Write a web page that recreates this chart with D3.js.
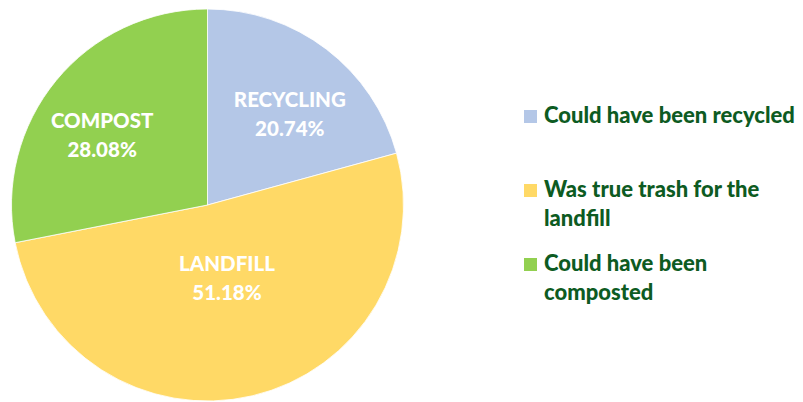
<!DOCTYPE html>
<html>
<head>
<meta charset="utf-8">
<script src="https://cdn.jsdelivr.net/npm/d3@7"></script>
<style>
  body { margin: 0; background: #fff; }
  text { font-family: Lato, "Open Sans", sans-serif; font-weight: 900; }
</style>
</head>
<body>
<div id="chart"></div>
<script>
// data
var categories = ["RECYCLING", "LANDFILL", "COMPOST"];
var values = [20.74, 51.18, 28.08];
var legendLabels = [
  ["Could have been recycled"],
  ["Was true trash for the", "landfill"],
  ["Could have been", "composted"]
];
var colors = ["#b4c7e7", "#ffd966", "#92d050"];

var width = 803,
    height = 402,
    cx = 207.5,
    cy = 205,
    radius = 196,
    labelR = [0.6, 0.42, 0.63],              // excel "best fit" style placement
    labelNudge = [[11, 3.5], [0.7, -6], [-10, 9.5]],
    lineGap = 29;

var svg = d3.select("#chart").append("svg")
    .attr("width", width)
    .attr("height", height);

var pie = d3.pie().sort(null).value(function (d) { return d; });
var arcs = pie(values);

var arc = d3.arc().innerRadius(0).outerRadius(radius);

var g = svg.append("g")
    .attr("transform", "translate(" + cx + "," + cy + ")");

g.selectAll("path.slice")
  .data(arcs)
  .enter().append("path")
    .attr("class", "slice")
    .attr("d", arc)
    .attr("fill", function (d, i) { return colors[i]; })
    .attr("stroke", "#fff")
    .attr("stroke-width", 0.8);

var labels = g.selectAll("g.lab")
  .data(arcs)
  .enter().append("g")
    .attr("class", "lab")
    .attr("transform", function (d, i) {
      var r = radius * labelR[i];
      var c = d3.arc().innerRadius(r).outerRadius(r).centroid(d);
      return "translate(" + (c[0] + labelNudge[i][0]) + "," + (c[1] + labelNudge[i][1]) + ")";
    });

labels.append("text")
    .attr("text-anchor", "middle")
    .attr("y", -8)
    .attr("fill", "#fff")
    .style("font-size", "20.5px")
    .text(function (d, i) { return categories[i]; });

labels.append("text")
    .attr("text-anchor", "middle")
    .attr("y", -8 + lineGap)
    .attr("fill", "#fff")
    .style("font-size", "20.5px")
    .text(function (d, i) { return d3.format(".2f")(values[i]) + "%"; });

// legend
var legendY = d3.scalePoint()
    .domain(d3.range(categories.length))
    .range([123, 271]);

var leg = svg.selectAll("g.legend")
  .data(legendLabels)
  .enter().append("g")
    .attr("class", "legend")
    .attr("transform", function (d, i) { return "translate(524," + legendY(i) + ")"; });

leg.append("rect")
    .attr("x", 0)
    .attr("y", -13)
    .attr("width", 13)
    .attr("height", 13)
    .attr("fill", function (d, i) { return colors[i]; });

leg.each(function (lines) {
  var t = d3.select(this).append("text")
      .attr("fill", "#0d5b22")
      .style("font-size", "22px");
  lines.forEach(function (l, j) {
    t.append("tspan")
      .attr("x", 20)
      .attr("y", j * lineGap)
      .text(l);
  });
});
</script>
</body>
</html>
